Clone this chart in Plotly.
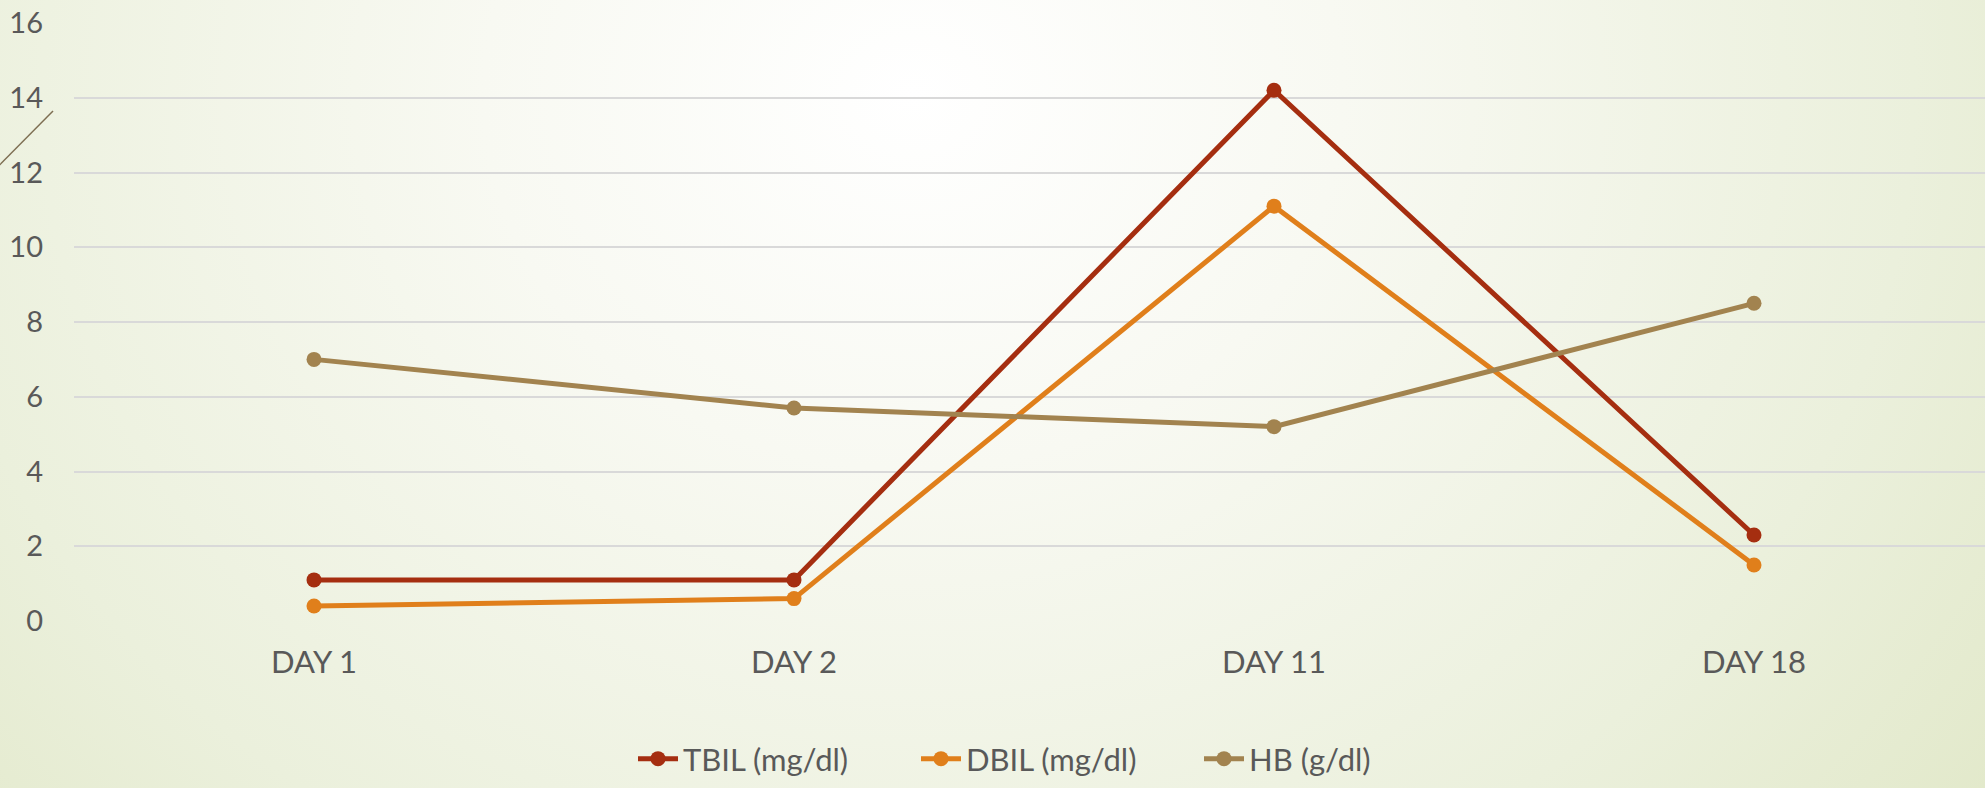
import base64
import plotly.graph_objects as go

# Lab values over the course of the admission
days = ["DAY 1", "DAY 2", "DAY 11", "DAY 18"]
tbil = [1.1, 1.1, 14.2, 2.3]
dbil = [0.4, 0.6, 11.1, 1.5]
hb = [7.0, 5.7, 5.2, 8.5]
y_ticks = [0, 2, 4, 6, 8, 10, 12, 14, 16]

W, H = 1985, 788
ML, MR, MT, MB = 74, 0, 23, 167
PW = W - ML - MR
PH = H - MT - MB

TEXT = "#595959"
FONT = "Lato, 'Open Sans', sans-serif"

# soft radial wash behind the whole chart
svg = f"""<svg xmlns='http://www.w3.org/2000/svg' width='{W}' height='{H}' viewBox='0 0 {W} {H}' preserveAspectRatio='none'>
<defs>
<radialGradient id='g' cx='0.46' cy='0.12' r='0.72' gradientUnits='objectBoundingBox' gradientTransform='translate(0.46 0.12) scale(1 2.2) translate(-0.46 -0.12)'>
<stop offset='0' stop-color='#ffffff'/>
<stop offset='0.3' stop-color='#f8f9f2'/>
<stop offset='0.7' stop-color='#ebf0dc'/>
<stop offset='1' stop-color='#e0e7c6'/>
</radialGradient>
</defs>
<rect x='0' y='0' width='{W}' height='{H}' fill='url(#g)'/>
</svg>"""
bg_src = "data:image/svg+xml;base64," + base64.b64encode(svg.encode()).decode()

series = [
    ("TBIL (mg/dl)", tbil, "#A52E10"),
    ("DBIL (mg/dl)", dbil, "#E07F1B"),
    ("HB (g/dl)", hb, "#A2834F"),
]

fig = go.Figure()
for name, vals, color in series:
    fig.add_trace(go.Scatter(
        x=list(range(len(days))), y=vals, name=name,
        mode="lines+markers",
        line=dict(color=color, width=5),
        marker=dict(color=color, size=15),
    ))

fig.update_layout(
    width=W, height=H,
    margin=dict(l=ML, r=MR, t=MT, b=MB, pad=0),
    paper_bgcolor="rgba(0,0,0,0)",
    plot_bgcolor="rgba(0,0,0,0)",
    font=dict(family=FONT, color=TEXT),
    showlegend=True,
    legend=dict(
        orientation="h",
        x=(633 - ML) / PW, xanchor="left",
        y=(H - MB - 786) / PH, yanchor="bottom",
        font=dict(size=31, color=TEXT, family=FONT),
        itemwidth=40,
        entrywidth=228, entrywidthmode="pixels",
        bgcolor="rgba(0,0,0,0)",
    ),
    xaxis=dict(
        range=[-0.5, -0.5 + PW / 480],
        tickmode="array",
        tickvals=list(range(len(days))),
        ticktext=days,
        showgrid=False, zeroline=False, showline=False,
        tickfont=dict(size=31, color=TEXT, family=FONT),
        ticks="", ticklabelstandoff=20,
    ),
    yaxis=dict(
        range=[0, 16],
        tickmode="array",
        tickvals=y_ticks,
        showgrid=True, gridcolor="#d9d9d9", gridwidth=2,
        zeroline=False, showline=False,
        tickfont=dict(size=29, color=TEXT, family=FONT),
        ticks="", ticklabelstandoff=30,
    ),
    images=[dict(
        source=bg_src, xref="paper", yref="paper",
        x=-ML / PW, y=1 + MT / PH,
        sizex=W / PW, sizey=H / PH,
        xanchor="left", yanchor="top",
        sizing="stretch", layer="below",
    )],
    shapes=[dict(
        type="line", xref="paper", yref="paper",
        x0=-0.04, y0=(H - MB - 167) / PH,
        x1=(53 - ML) / PW, y1=(H - MB - 111) / PH,
        line=dict(color="#7d6e52", width=1.5),
    )],
)

fig.write_html("out.html")
